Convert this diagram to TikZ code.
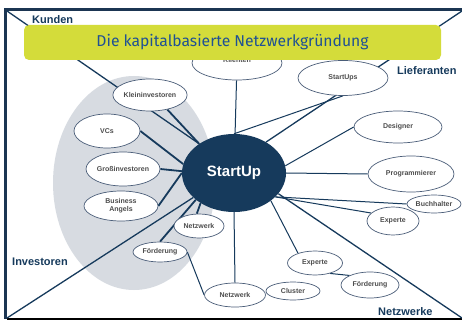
\documentclass[tikz,border=0pt]{standalone}
\usepackage{fontspec}
\setmainfont{Liberation Sans}
\newfontfamily\titlefont{Fira Sans}
\usetikzlibrary{shapes.geometric}

\definecolor{navy}{HTML}{163A5C}
\definecolor{frameblue}{HTML}{1B3552}
\definecolor{lime}{HTML}{D4DC3A}
\definecolor{titleblue}{HTML}{1F5194}
\definecolor{cloud}{HTML}{D7DBE1}
\definecolor{rim}{HTML}{4A5D78}
\definecolor{labelgray}{HTML}{4D4D4D}
\definecolor{baseline}{HTML}{A9B0B8}

\pgfdeclarelayer{back}
\pgfdeclarelayer{lines}
\pgfsetlayers{back,lines,main}

\begin{document}
\begin{tikzpicture}[x=1pt,y=-1pt,
  bubble/.style={ellipse, draw=rim, line width=0.7pt, fill=white, inner sep=0pt,
    font=\bfseries\fontsize{7}{8}\selectfont, text=labelgray, align=center},
  hub/.style={ellipse, fill=navy, inner sep=0pt, minimum width=104pt, minimum height=78pt,
    text=white, font=\bfseries\fontsize{15}{17}\selectfont},
  link/.style={draw=navy, line width=1pt},
  heavy link/.style={draw=navy, line width=1.8pt},
  divider/.style={draw=navy, line width=1.3pt},
  quadrant/.style={font=\bfseries\fontsize{11}{13}\selectfont, text=navy, anchor=base west, inner sep=0pt}]

\useasboundingbox (0,0) rectangle (462,320);

\coordinate (tl) at (7,11);
\coordinate (tr) at (462,11);
\coordinate (bl) at (7,318);
\coordinate (br) at (462,318);

% paper, frame and investor cloud
\begin{pgfonlayer}{back}
  \fill[white] (0,0) rectangle (462,320);
  \fill[frameblue] (4,8) rectangle (462,11.5);
  \fill[frameblue] (4,8) rectangle (7,319);
  \fill[baseline] (7,318) rectangle (462,320);
  \fill[cloud] (134,183) ellipse [x radius=81, y radius=107];
\end{pgfonlayer}

% centre
\node[hub] (StartUp) at (234,173) {StartUp};

% customers / suppliers
\node[bubble, minimum width=90pt, minimum height=34pt] (Klienten) at (237,63) {\raisebox{6pt}{Klienten}};
\node[bubble, minimum width=90pt, minimum height=35pt] (StartUps) at (343,78) {StartUps};
\node[bubble, minimum width=88pt, minimum height=32pt] (Designer) at (398,127) {Designer};
\node[bubble, minimum width=86pt, minimum height=36pt] (Programmierer) at (411,174) {Programmierer};
\node[bubble, minimum width=54pt, minimum height=18pt] (Buchhalter) at (434,204) {Buchhalter};
\node[bubble, minimum width=52pt, minimum height=28pt] (ExpR) at (393,221) {Experte};

% network
\node[bubble, minimum width=55pt, minimum height=24pt] (ExpB) at (315,263) {Experte};
\node[bubble, minimum width=58pt, minimum height=26pt] (FoerdB) at (370,285) {Förderung};
\node[bubble, minimum width=54pt, minimum height=18pt] (Cluster) at (293,291) {Cluster};
\node[bubble, minimum width=61pt, minimum height=24pt] (NetzB) at (235,295) {Netzwerk};
\node[bubble, minimum width=54pt, minimum height=20pt] (FoerdL) at (160,252) {Förderung};
\node[bubble, minimum width=50pt, minimum height=24pt] (NetzL) at (199,226) {Netzwerk};

% investors
\node[bubble, minimum width=74pt, minimum height=30pt] (Angels) at (121,206) {Business\\Angels};
\node[bubble, minimum width=74pt, minimum height=34pt] (Gross) at (123,169) {Großinvestoren};
\node[bubble, minimum width=66pt, minimum height=34pt] (VCs) at (107,131) {VCs};
\node[bubble, minimum width=62pt, minimum height=32pt] (Klein) at (150,95) {Kleininvestoren};

\begin{pgfonlayer}{lines}
  % quadrant dividers
  \draw[divider] (tl) -- (StartUp.140);
  \draw[divider] (tr) -- (StartUp.44);
  \draw[divider] (bl) -- (StartUp.211);
  \draw[divider] (br) -- (StartUp.335);
  % investor links
  \draw[heavy link] (Klein.-40) -- (StartUp.140);
  \draw[heavy link] (VCs.east) -- (StartUp.170);
  \draw[heavy link] (Gross.east) -- (StartUp.178);
  \draw[heavy link] (Angels.east) -- (StartUp.west);
  \draw[heavy link] (FoerdL.north) -- (StartUp.215);
  \draw[heavy link] (NetzL.100) -- (StartUp.222);
  % other links
  \draw[link] (Klienten) -- (StartUp);
  \draw[link] (StartUps.south) -- (StartUp.north);
  \draw[link] (Designer.west) -- (StartUp.8);
  \draw[link] (StartUp.east) -- (Programmierer.west);
  \draw[link] (StartUp.-30) -- (Buchhalter.west);
  \draw[link] (StartUp.-30) -- (ExpR.160);
  \draw[link] (StartUp.-37) -- (ExpB.150);
  \draw[link] (ExpB.-35) -- (FoerdB.155);
  \draw[link] (StartUp.south) -- (NetzB.north);
  \draw[link] (FoerdL.east) -- (NetzB.west);
\end{pgfonlayer}

% title banner
\node[fill=lime, rounded corners=5pt, minimum width=417pt, minimum height=35pt, inner sep=0pt,
  text=titleblue, font=\titlefont\fontsize{15.7}{18}\selectfont] (title) at (232.5,42.5)
  {Die kapitalbasierte Netzwerkgründung};

% quadrant names
\node[quadrant] (kunden) at (32,24) {Kunden};
\node[quadrant] (lieferanten) at (397,75) {Lieferanten};
\node[quadrant] (investoren) at (12,265) {Investoren};
\node[quadrant] (netzwerke) at (378,315) {Netzwerke};

\end{tikzpicture}
\end{document}
